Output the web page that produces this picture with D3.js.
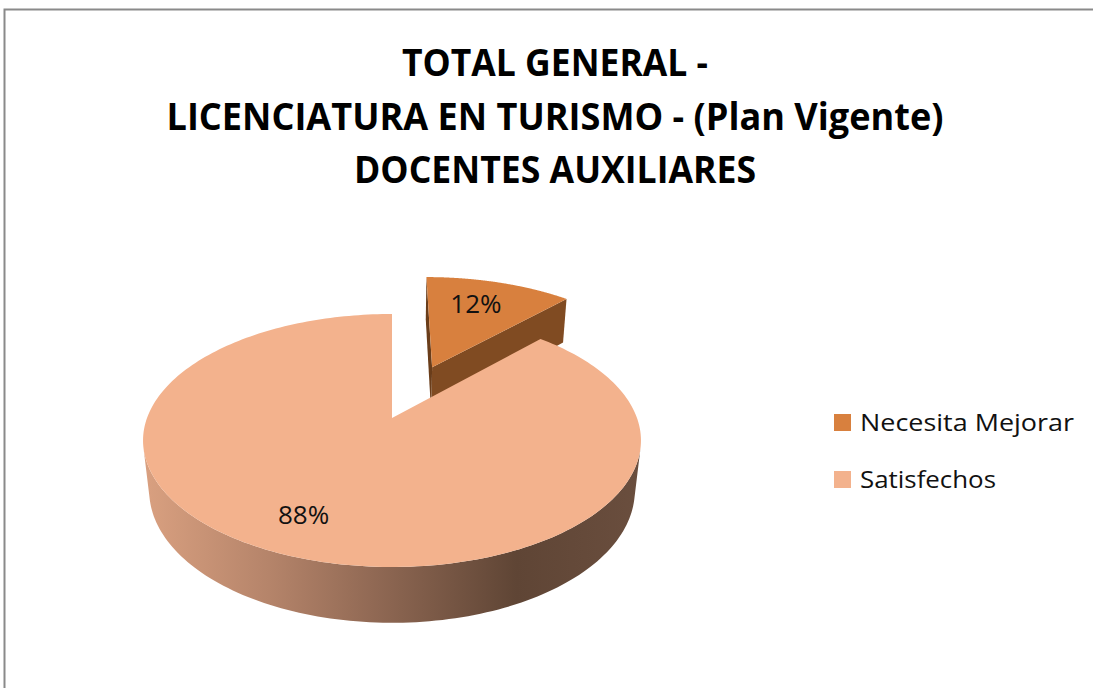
<!DOCTYPE html>
<html><head><meta charset="utf-8">
<script src="https://cdn.jsdelivr.net/npm/d3@7"></script>
<style>html,body{margin:0;padding:0;background:#fff;}svg{display:block;}</style>
</head><body>
<svg id="c" width="1093" height="688"></svg>
<script>
const titleLines = ["TOTAL GENERAL -", "LICENCIATURA  EN TURISMO - (Plan Vigente)", "DOCENTES AUXILIARES"];
const categories = ["Necesita Mejorar", "Satisfechos"];
const values = [12, 88];
const labels = ["12%", "88%"];
const topColors = ["#D8803E", "#F3B28D"];
const exploded = [0.48, 0];

const svg = d3.select("#c");
// border
svg.append("path").attr("d","M4.5,688 V9.5 H1093").attr("fill","none").attr("stroke","#8a8a8a").attr("stroke-width",2);

// title
const titleW = [306, 777, 402];
const titleY = [76, 130, 183];
titleLines.forEach((t,i)=>{
  svg.append("text").attr("x",555).attr("y",titleY[i]).attr("text-anchor","middle")
    .attr("font-family","'Open Sans', sans-serif").attr("font-weight",700).attr("font-size",37)
    .attr("textLength",titleW[i]).attr("lengthAdjust","spacingAndGlyphs").attr("fill","#000").text(t);
});

// 3D projection
const cx = 392, cy = 418, S = 245, D = 4.87, A = 30*Math.PI/180, H = 0.24;
const cosA = Math.cos(A), sinA = Math.sin(A);
function proj(X,Y,Z){ const dist = D - (Y*cosA + Z*sinA); const k = D/dist; return [cx + S*X*k, cy + S*(Y*sinA - Z*cosA)*k]; }
const cam = [0, D*cosA, D*sinA];
const u = th => [Math.sin(th), -Math.cos(th)];

const pie = d3.pie().sort(null).value(d=>d)(values);

// gradient for main wall
const defs = svg.append("defs");
const g1 = defs.append("linearGradient").attr("id","wallG").attr("gradientUnits","userSpaceOnUse")
  .attr("x1",145).attr("x2",640).attr("y1",0).attr("y2",0);
[[0,"#D9A080"],[0.25,"#B5846A"],[0.5,"#8A6450"],[0.75,"#5F4535"],[1,"#6A4E3E"]].forEach(s=>g1.append("stop").attr("offset",s[0]).attr("stop-color",s[1]));

const line = d3.line();
const order = [0,1];
order.forEach(i=>{
  const p = pie[i];
  const a0 = p.startAngle, a1 = p.endAngle, mid = (a0+a1)/2;
  const e = exploded[i];
  const o = [u(mid)[0]*e, u(mid)[1]*e];
  const g = svg.append("g");
  // radial faces
  const faces = [[a0, -1],[a1, 1]];
  faces.forEach(([th,sgn])=>{
    const n = [sgn*Math.cos(th), sgn*Math.sin(th), 0];
    const r = u(th);
    const P = [o[0]+r[0]*0.5, o[1]+r[1]*0.5, -H/2];
    const vis = (cam[0]-P[0])*n[0] + (cam[1]-P[1])*n[1] + (cam[2]-P[2])*n[2];
    if (vis > 0) {
      const pts = [proj(o[0],o[1],0), proj(o[0]+r[0],o[1]+r[1],0), proj(o[0]+r[0],o[1]+r[1],-H), proj(o[0],o[1],-H)];
      g.append("path").attr("d", line(pts)+"Z").attr("fill", i===0 ? (sgn>0?"#804B22":"#6A3D1A") : "#8A6450");
    }
  });
  // outer wall, visible part
  const N = 240;
  let seg = [];
  const segs = [];
  for (let j=0;j<=N;j++){
    const th = a0 + (a1-a0)*j/N;
    const r = u(th);
    const P = [o[0]+r[0], o[1]+r[1], 0];
    const vis = (cam[0]-P[0])*r[0] + (cam[1]-P[1])*r[1];
    if (vis > 0) seg.push(th); else if (seg.length){ segs.push(seg); seg=[]; }
  }
  if (seg.length) segs.push(seg);
  segs.forEach(sg=>{
    const top = sg.map(th=>{const r=u(th); return proj(o[0]+r[0],o[1]+r[1],0);});
    const bot = sg.slice().reverse().map(th=>{const r=u(th); return proj(o[0]+r[0],o[1]+r[1],-H);});
    g.append("path").attr("d", line(top.concat(bot))+"Z").attr("fill", i===1 ? "url(#wallG)" : "#7A4820");
  });
  // top face
  const tp = [proj(o[0],o[1],0)];
  for (let j=0;j<=N;j++){ const th=a0+(a1-a0)*j/N; const r=u(th); tp.push(proj(o[0]+r[0],o[1]+r[1],0)); }
  g.append("path").attr("d", line(tp)+"Z").attr("fill", topColors[i]);
});

// data labels
const labR = [0.62, 0.76];
pie.forEach((p,i)=>{
  const mid=(p.startAngle+p.endAngle)/2, r=u(mid), t=exploded[i]+labR[i];
  let [x,y] = proj(r[0]*t, r[1]*t, 0);
  if (i===0) y -= 9;
  if (i===1) { x -= 10; y -= 3; }
  svg.append("text").attr("x",x).attr("y",y).attr("text-anchor","middle").attr("dominant-baseline","central")
    .attr("font-family","'Open Sans', sans-serif").attr("font-size",26).attr("fill","#111").text(labels[i]);
});

// legend
const legY = [431, 488], legW = [214, 136];
categories.forEach((c,i)=>{
  svg.append("rect").attr("x",834).attr("y",legY[i]-17).attr("width",17).attr("height",17).attr("fill",topColors[i]);
  svg.append("text").attr("x",860).attr("y",legY[i]).attr("font-family","'Open Sans', sans-serif").attr("font-size",24)
    .attr("textLength",legW[i]).attr("lengthAdjust","spacingAndGlyphs").attr("fill","#111").text(c);
});
</script>
</body></html>
